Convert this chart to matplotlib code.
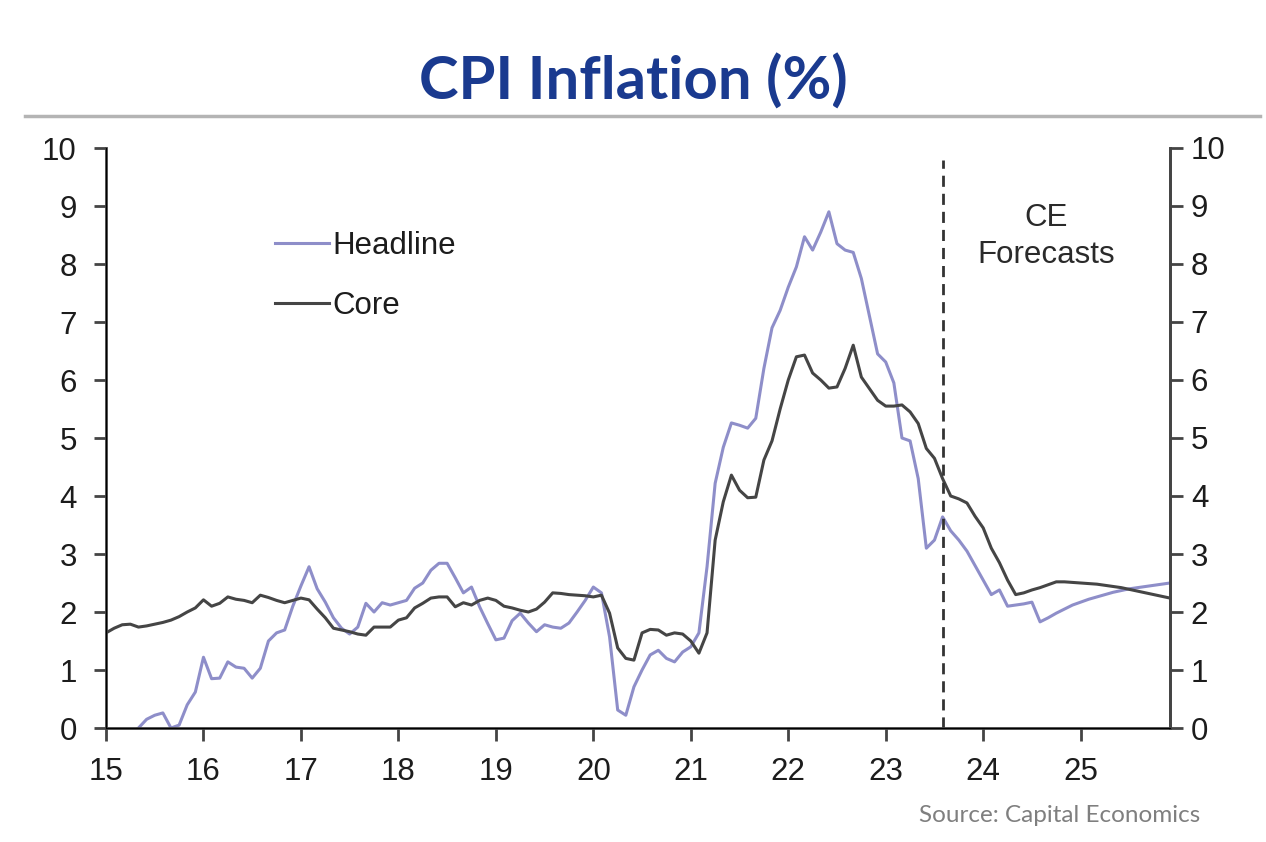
import numpy as np
import matplotlib
matplotlib.use("Agg")
import matplotlib.pyplot as plt

# monthly data, Jan 2015 - Dec 2025 (x = 15 + month/12)
headline = [
    -0.2, -0.1, -0.2, -0.1, 0.0, 0.15, 0.22, 0.26, 0.0, 0.05, 0.4, 0.62,       # 2015
    1.22, 0.85, 0.86, 1.14, 1.05, 1.03, 0.86, 1.03, 1.5, 1.64, 1.69, 2.1,      # 2016
    2.45, 2.78, 2.4, 2.17, 1.9, 1.72, 1.62, 1.74, 2.15, 2.0, 2.16, 2.12,       # 2017
    2.16, 2.2, 2.41, 2.5, 2.72, 2.84, 2.84, 2.59, 2.33, 2.43, 2.09, 1.8,       # 2018
    1.52, 1.55, 1.85, 1.98, 1.81, 1.66, 1.78, 1.74, 1.72, 1.81, 2.0, 2.2,      # 2019
    2.43, 2.33, 1.57, 0.31, 0.22, 0.71, 1.0, 1.26, 1.34, 1.2, 1.14, 1.31,      # 2020
    1.4, 1.64, 2.78, 4.22, 4.84, 5.26, 5.22, 5.17, 5.34, 6.2, 6.9, 7.2,        # 2021
    7.6, 7.95, 8.47, 8.24, 8.55, 8.9, 8.35, 8.24, 8.2, 7.75, 7.1, 6.45,        # 2022
    6.31, 5.95, 5.0, 4.95, 4.3, 3.1, 3.24, 3.64, 3.4, 3.24, 3.05, 2.8,         # 2023
    2.55, 2.3, 2.38, 2.1, 2.12, 2.14, 2.17, 1.83, 1.9, 1.98, 2.05, 2.12,       # 2024
    2.17, 2.22, 2.26, 2.3, 2.34, 2.37, 2.4, 2.42, 2.44, 2.46, 2.48, 2.5,       # 2025
]
core = [
    1.64, 1.72, 1.78, 1.79, 1.74, 1.76, 1.79, 1.82, 1.86, 1.92, 2.0, 2.07,
    2.21, 2.1, 2.15, 2.26, 2.22, 2.2, 2.16, 2.29, 2.25, 2.2, 2.16, 2.2,
    2.24, 2.21, 2.05, 1.9, 1.72, 1.69, 1.66, 1.62, 1.6, 1.74, 1.74, 1.74,
    1.86, 1.9, 2.07, 2.15, 2.24, 2.26, 2.26, 2.09, 2.16, 2.12, 2.2, 2.24,
    2.2, 2.1, 2.07, 2.03, 2.0, 2.05, 2.17, 2.33, 2.32, 2.3, 2.29, 2.28,
    2.26, 2.29, 1.98, 1.38, 1.2, 1.17, 1.64, 1.7, 1.69, 1.6, 1.64, 1.62,
    1.5, 1.29, 1.64, 3.24, 3.9, 4.36, 4.1, 3.97, 3.98, 4.62, 4.95, 5.5,
    6.0, 6.4, 6.43, 6.12, 6.0, 5.86, 5.88, 6.2, 6.6, 6.05, 5.85, 5.65,
    5.55, 5.55, 5.57, 5.45, 5.25, 4.82, 4.65, 4.3, 4.0, 3.95, 3.88, 3.65,
    3.45, 3.1, 2.85, 2.55, 2.3, 2.33, 2.38, 2.42, 2.47, 2.52, 2.52, 2.51,
    2.5, 2.49, 2.48, 2.46, 2.44, 2.42, 2.39, 2.36, 2.33, 2.3, 2.27, 2.24,
]
years = list(range(15, 26))
forecast_start = 23 + 7 / 12

x = 15 + np.arange(len(headline)) / 12

plt.rcParams['font.family'] = ['Liberation Sans', 'DejaVu Sans']

fig = plt.figure(figsize=(12.66, 8.42), dpi=100)
ax = fig.add_axes([106 / 1266, 1 - 728 / 842, 1064 / 1266, 580 / 842])

ax.plot(x, headline, color='#8e8ec9', lw=2.2, label='Headline')
ax.plot(x, core, color='#454545', lw=2.2, label='Core')
ax.axvline(forecast_start, ymin=0, ymax=0.98, color='#333333', lw=2, dashes=(4, 2.5))

ax.set_xlim(15, 25 + 11 / 12)
ax.set_ylim(0, 10)
ax.set_xticks(years)
ax.set_xticklabels([str(y) for y in years])
ax.set_yticks(range(0, 11))

axis_col = '#444444'
lab_col = '#1c1c1c'
for s in ['left', 'right', 'bottom']:
    ax.spines[s].set_color(axis_col)
    ax.spines[s].set_linewidth(2)
ax.spines['top'].set_visible(False)
ax.tick_params(axis='both', direction='out', length=9, width=2, color=axis_col,
               labelsize=22.5, labelcolor=lab_col)
ax.tick_params(axis='x', pad=12)
ax.tick_params(axis='y', pad=12)

ax2 = ax.twinx()
ax2.set_ylim(0, 10)
ax2.set_yticks(range(0, 11))
ax2.spines['top'].set_visible(False)
ax2.spines['right'].set_color(axis_col)
ax2.spines['right'].set_linewidth(2)
ax2.tick_params(axis='y', direction='out', length=9, width=2, color=axis_col,
                labelsize=22.5, labelcolor=lab_col, pad=6)

leg = ax.legend(loc='upper left', bbox_to_anchor=(0.132, 0.905), frameon=False,
                fontsize=22.5, handlelength=1.75, handletextpad=0.1, labelspacing=0.95)
for t in leg.get_texts():
    t.set_color(lab_col)

ax.text(24.65, 8.47, 'CE\nForecasts', ha='center', va='center', fontsize=22.5,
        color='#2a2a2a', linespacing=1.3)

fig.text(0.5, 1 - 82 / 842, 'CPI Inflation (%)', ha='center', va='center',
         fontsize=43, fontweight='bold', color='#1a3a8f', family=['Lato', 'DejaVu Sans'])
fig.add_artist(plt.Line2D([25 / 1266, 1260 / 1266], [1 - 116 / 842] * 2,
                          color='#b4b4b4', lw=2.5))

fig.text(1200 / 1266, 1 - 815 / 842, 'Source: Capital Economics', ha='right',
         va='center', fontsize=17.5, color='#7f7f7f', family=['Lato', 'DejaVu Sans'])

fig.savefig('out.png', dpi=100)
